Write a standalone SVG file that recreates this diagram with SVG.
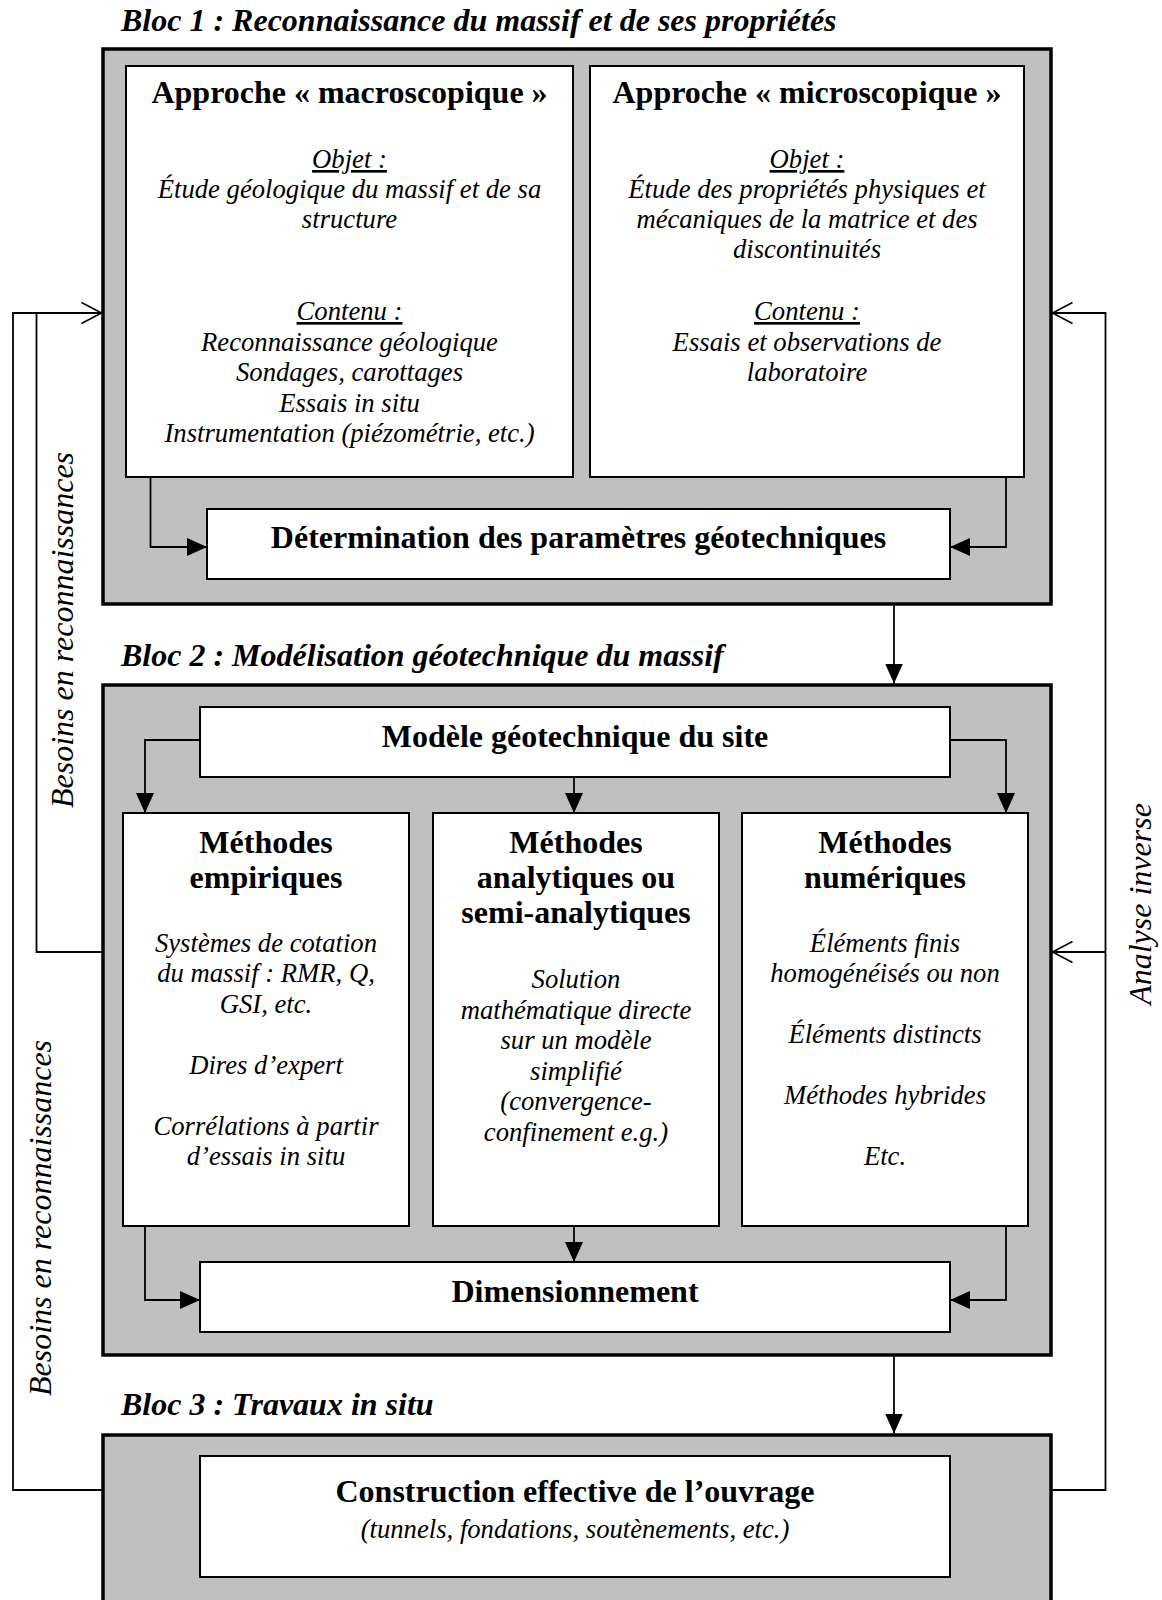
<svg xmlns="http://www.w3.org/2000/svg" width="1162" height="1600" viewBox="0 0 1162 1600">
<style>
  .bloc { fill: #c0c0c0; stroke: #000; stroke-width: 3.5; }
  .box { fill: #fff; stroke: #000; stroke-width: 2; }
  .conn { fill: none; stroke: #000; stroke-width: 1.8; }
  text { font-family: "Liberation Serif", "Times New Roman", serif; fill: #000; }
  .h { font-size: 32px; font-weight: bold; text-anchor: middle; }
  .bt { font-size: 32px; font-weight: bold; font-style: italic; }
  .b { font-size: 26.67px; font-style: italic; text-anchor: middle; }
  .u { text-decoration: underline; }
  .lbl { font-size: 32px; font-style: italic; text-anchor: middle; }
</style>
<defs>
  <marker id="arr" markerUnits="userSpaceOnUse" markerWidth="20" markerHeight="18" refX="20" refY="9" orient="auto">
    <path d="M0,0 L20,9 L0,18 Z" fill="#000"/>
  </marker>
  <marker id="open" markerUnits="userSpaceOnUse" markerWidth="24" markerHeight="24" refX="21" refY="12" orient="auto">
    <path d="M1,1.5 L21,12 L1,22.5" fill="none" stroke="#000" stroke-width="1.6"/>
  </marker>
</defs>

<text class="bt" x="121" y="31">Bloc 1 : Reconnaissance du massif et de ses propriétés</text>
<text class="bt" x="121" y="666">Bloc 2 : Modélisation géotechnique du massif</text>
<text class="bt" x="121" y="1415">Bloc 3 : Travaux in situ</text>

<g id="bloc1">
  <rect class="bloc" x="103" y="49" width="948" height="555"/>
</g>
<g id="bloc2">
  <rect class="bloc" x="103" y="685" width="948" height="670"/>
</g>
<g id="bloc3">
  <rect class="bloc" x="103" y="1435" width="948" height="200"/>
</g>

<g id="macro">
  <rect class="box" x="126" y="66" width="447" height="411"/>
  <text class="h" x="349.5" y="103">Approche « macroscopique »</text>
  <text class="b u" x="349.5" y="168">Objet :</text>
  <text class="b" x="349.5" y="198">Étude géologique du massif et de sa</text>
  <text class="b" x="349.5" y="228">structure</text>
  <text class="b u" x="349.5" y="320">Contenu :</text>
  <text class="b" x="349.5" y="350.5">Reconnaissance géologique</text>
  <text class="b" x="349.5" y="381">Sondages, carottages</text>
  <text class="b" x="349.5" y="411.5">Essais in situ</text>
  <text class="b" x="349.5" y="442">Instrumentation (piézométrie, etc.)</text>
</g>

<g id="micro">
  <rect class="box" x="590" y="66" width="434" height="411"/>
  <text class="h" x="807" y="103">Approche « microscopique »</text>
  <text class="b u" x="807" y="168">Objet :</text>
  <text class="b" x="807" y="198">Étude des propriétés physiques et</text>
  <text class="b" x="807" y="228">mécaniques de la matrice et des</text>
  <text class="b" x="807" y="258">discontinuités</text>
  <text class="b u" x="807" y="320">Contenu :</text>
  <text class="b" x="807" y="350.5">Essais et observations de</text>
  <text class="b" x="807" y="381">laboratoire</text>
</g>

<g id="determination">
  <rect class="box" x="207" y="509" width="743" height="70"/>
  <text class="h" x="578.5" y="548">Détermination des paramètres géotechniques</text>
</g>

<g id="modele">
  <rect class="box" x="200" y="707" width="750" height="70"/>
  <text class="h" x="575" y="747">Modèle géotechnique du site</text>
</g>

<g id="empiriques">
  <rect class="box" x="123" y="813" width="286" height="413"/>
  <text class="h" x="266" y="853">Méthodes</text>
  <text class="h" x="266" y="888">empiriques</text>
  <text class="b" x="266" y="951.5">Systèmes de cotation</text>
  <text class="b" x="266" y="982">du massif : RMR, Q,</text>
  <text class="b" x="266" y="1012.5">GSI, etc.</text>
  <text class="b" x="266" y="1073.5">Dires d’expert</text>
  <text class="b" x="266" y="1134.5">Corrélations à partir</text>
  <text class="b" x="266" y="1165">d’essais in situ</text>
</g>

<g id="analytiques">
  <rect class="box" x="433" y="813" width="286" height="413"/>
  <text class="h" x="576" y="853">Méthodes</text>
  <text class="h" x="576" y="888">analytiques ou</text>
  <text class="h" x="576" y="923">semi-analytiques</text>
  <text class="b" x="576" y="988">Solution</text>
  <text class="b" x="576" y="1018.5">mathématique directe</text>
  <text class="b" x="576" y="1049">sur un modèle</text>
  <text class="b" x="576" y="1079.5">simplifié</text>
  <text class="b" x="576" y="1110">(convergence-</text>
  <text class="b" x="576" y="1140.5">confinement e.g.)</text>
</g>

<g id="numeriques">
  <rect class="box" x="742" y="813" width="286" height="413"/>
  <text class="h" x="885" y="853">Méthodes</text>
  <text class="h" x="885" y="888">numériques</text>
  <text class="b" x="885" y="951.5">Éléments finis</text>
  <text class="b" x="885" y="982">homogénéisés ou non</text>
  <text class="b" x="885" y="1043">Éléments distincts</text>
  <text class="b" x="885" y="1104">Méthodes hybrides</text>
  <text class="b" x="885" y="1165">Etc.</text>
</g>

<g id="dimensionnement">
  <rect class="box" x="200" y="1262" width="750" height="70"/>
  <text class="h" x="575" y="1302">Dimensionnement</text>
</g>

<g id="construction">
  <rect class="box" x="200" y="1456" width="750" height="121"/>
  <text class="h" x="575" y="1502">Construction effective de l’ouvrage</text>
  <text class="b" x="575" y="1538">(tunnels, fondations, soutènements, etc.)</text>
</g>

<g id="connectors">
  <path class="conn" d="M150.5,477 V547 H207" marker-end="url(#arr)"/>
  <path class="conn" d="M1006,477 V547 H950" marker-end="url(#arr)"/>
  <path class="conn" d="M894,605.5 V683.5" marker-end="url(#arr)"/>
  <path class="conn" d="M200,740 H145 V813" marker-end="url(#arr)"/>
  <path class="conn" d="M574,777 V813" marker-end="url(#arr)"/>
  <path class="conn" d="M950,740 H1006 V813" marker-end="url(#arr)"/>
  <path class="conn" d="M145,1226 V1300 H200" marker-end="url(#arr)"/>
  <path class="conn" d="M574,1226 V1262" marker-end="url(#arr)"/>
  <path class="conn" d="M1006,1226 V1300 H950" marker-end="url(#arr)"/>
  <path class="conn" d="M894,1356.5 V1433.5" marker-end="url(#arr)"/>
  <path class="conn" d="M101.5,1490 H13 V313 H101.5" marker-end="url(#open)"/>
  <path class="conn" d="M101.5,952 H36.5 V313"/>
  <path class="conn" d="M1052.5,1490 H1105.5 V313 H1052.5" marker-end="url(#open)"/>
  <path class="conn" d="M1105.5,952 H1052.5" marker-end="url(#open)"/>
</g>

<text class="lbl" transform="translate(73,630) rotate(-90)">Besoins en reconnaissances</text>
<text class="lbl" transform="translate(51,1218) rotate(-90)">Besoins en reconnaissances</text>
<text class="lbl" transform="translate(1151,904) rotate(-90)">Analyse inverse</text>
</svg>
